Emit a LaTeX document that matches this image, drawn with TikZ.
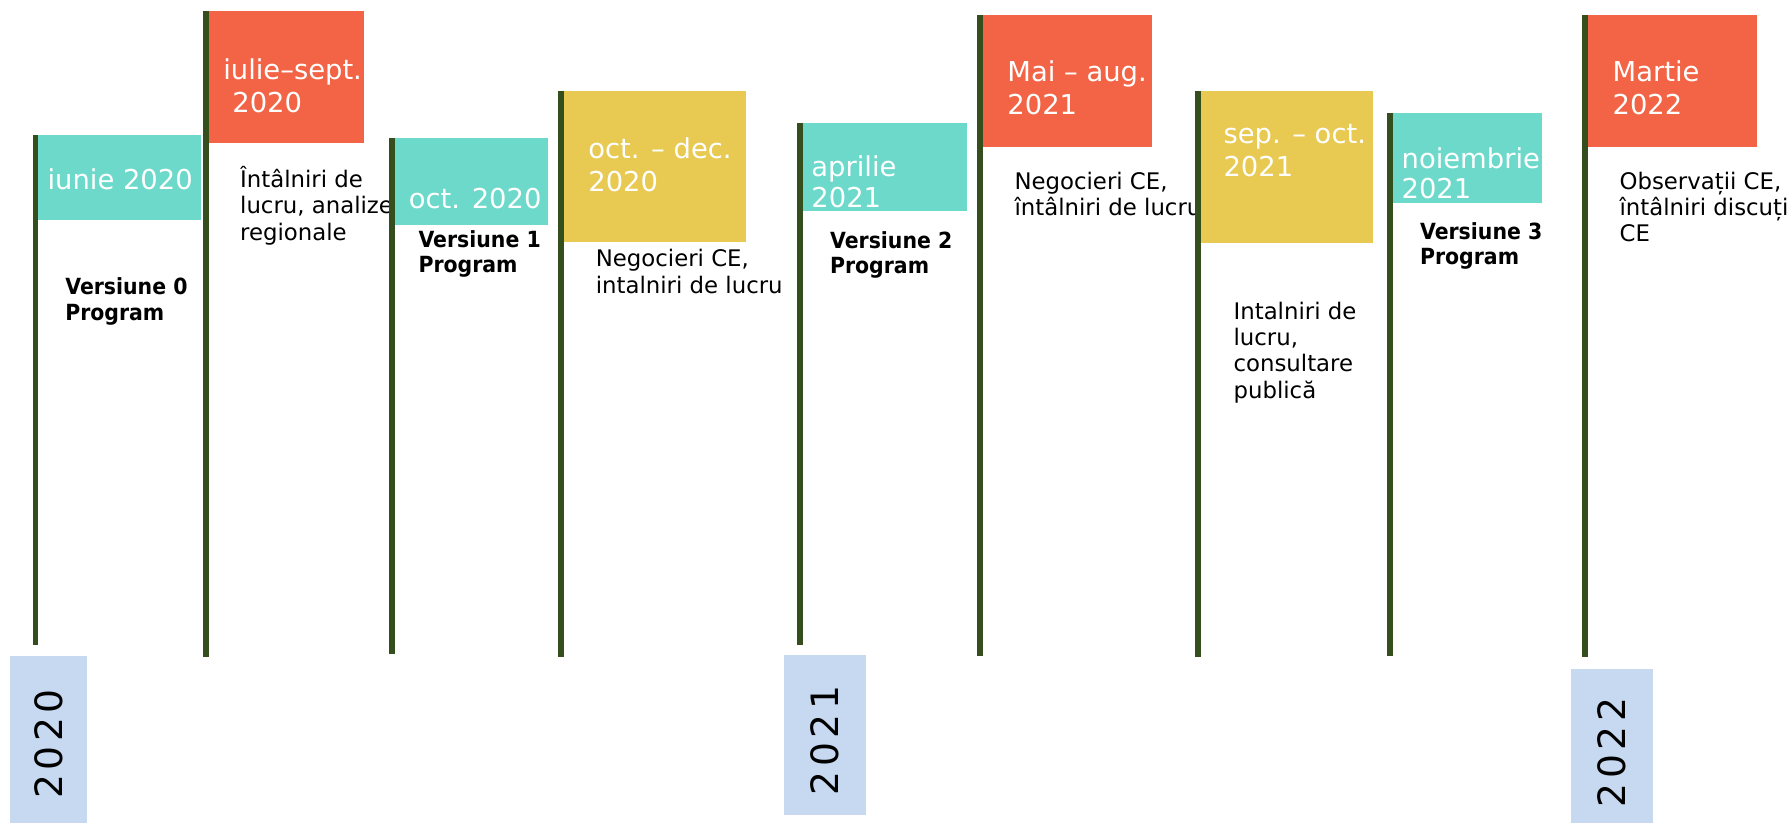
\documentclass[tikz,border=0pt]{standalone}
\usepackage{fontspec}
\setmainfont{DejaVu Sans}
\newfontfamily\versfont[FakeStretch=0.92]{DejaVu Sans}
\definecolor{polegreen}{HTML}{344E1E}
\definecolor{flagteal}{HTML}{6CD9CA}
\definecolor{flagred}{HTML}{F26445}
\definecolor{flagyellow}{HTML}{E8C951}
\definecolor{yearblue}{HTML}{C6D9F0}
\begin{document}
\begin{tikzpicture}[x=1pt,y=-1pt,
  pole/.style={fill=polegreen},
  flagtxt/.style={text=white, anchor=base west, inner sep=0pt, align=left, font=\fontsize{24}{29}\selectfont},
  flagtxtb/.style={flagtxt, font=\fontsize{24}{26.5}\selectfont},
  desctxt/.style={text=black, anchor=base west, inner sep=0pt, align=left, font=\fontsize{20}{23}\selectfont},
  verstxt/.style={text=black, anchor=base west, inner sep=0pt, align=left, font=\versfont\bfseries\fontsize{19.5}{22.5}\selectfont},
  yearbox/.style={fill=yearblue},
  yeartxt/.style={rotate=90, inner sep=0pt, text=black, font=\fontsize{33}{33}\selectfont}]
\useasboundingbox[fill=white] (0,0) rectangle (1568,721);

% year boxes
\fill[yearbox] (9,575) rectangle (76,730);
\node[yeartxt] (y2020) at (42.5,652) {2\hspace{4pt}0\hspace{4pt}2\hspace{4pt}0};
\fill[yearbox] (686.8,574) rectangle (758.7,714.3);
\node[yeartxt] (y2021) at (722.5,649) {2\hspace{4pt}0\hspace{4pt}2\hspace{4pt}1};
\fill[yearbox] (1377,586) rectangle (1449,730);
\node[yeartxt] (y2022) at (1413,659.5) {2\hspace{4pt}0\hspace{4pt}2\hspace{4pt}2};

% (multi-line nodes: base anchor = baseline of the last line)
% 1
\fill[pole] (28.5,118.3) rectangle (33.5,565);
\fill[flagteal] (33.5,118.3) rectangle (176,192.8);
\node[flagtxt] (t1) at (41.5,166.5) {iunie 2020};
\node[verstxt] (d1) at (57,281) {Versiune 0\\Program};

% 2
\fill[pole] (177.8,9.5) rectangle (182.8,575.6);
\fill[flagred] (182.8,9.5) rectangle (319.3,125.6);
\node[flagtxt] (t2) at (195.5,98.6) {iulie–sept.\\\hspace*{8pt}2020};
\node[desctxt] (d2) at (210.3,210.5) {Întâlniri de\\lucru, analize\\regionale};

% 3
\fill[pole] (341,121.2) rectangle (346,573);
\fill[flagteal] (346,121.2) rectangle (480.6,197.2);
\node[flagtxt] (t3) at (358.2,183) {oct. 2020};
\node[verstxt] (d3) at (366.6,239.1) {Versiune 1\\Program};

% 4
\fill[pole] (489.5,80) rectangle (494.5,576);
\fill[flagyellow] (494.5,80) rectangle (653.5,212);
\node[flagtxt] (t4) at (515.5,168) {oct. – dec.\\2020};
\node[desctxt] (d4) at (522,257) {Negocieri CE,\\intalniri de lucru};

% 5
\fill[pole] (698.5,108) rectangle (703.5,565);
\fill[flagteal] (703.5,108) rectangle (847.2,185);
\node[flagtxtb] (t5) at (711,181.5) {aprilie\\2021};
\node[verstxt] (d5) at (727.3,240) {Versiune 2\\Program};

% 6
\fill[pole] (856.5,13) rectangle (861.5,575);
\fill[flagred] (861.5,13) rectangle (1009.6,129);
\node[flagtxt] (t6) at (882.8,100.6) {Mai – aug.\\2021};
\node[desctxt] (d6) at (889,189) {Negocieri CE,\\întâlniri de lucru};

% 7
\fill[pole] (1047.5,80) rectangle (1052.5,576);
\fill[flagyellow] (1052.5,80) rectangle (1203.6,213);
\node[flagtxt] (t7) at (1072.2,155) {sep. – oct.\\2021};
\node[desctxt] (d7) at (1081,349) {Intalniri de\\lucru,\\consultare\\publică};

% 8
\fill[pole] (1215.5,99) rectangle (1220.5,575);
\fill[flagteal] (1220.5,99) rectangle (1351.4,178);
\node[flagtxtb] (t8) at (1228.3,174) {noiembrie\\2021};
\node[verstxt] (d8) at (1244.4,232.2) {Versiune 3\\Program};

% 9
\fill[pole] (1386.5,13) rectangle (1391.5,576);
\fill[flagred] (1391.5,13) rectangle (1540,128.6);
\node[flagtxt] (t9) at (1413.2,100.6) {Martie\\2022};
\node[desctxt] (d9) at (1419.3,212) {Observații CE,\\întâlniri discuții\\CE};
\end{tikzpicture}
\end{document}
